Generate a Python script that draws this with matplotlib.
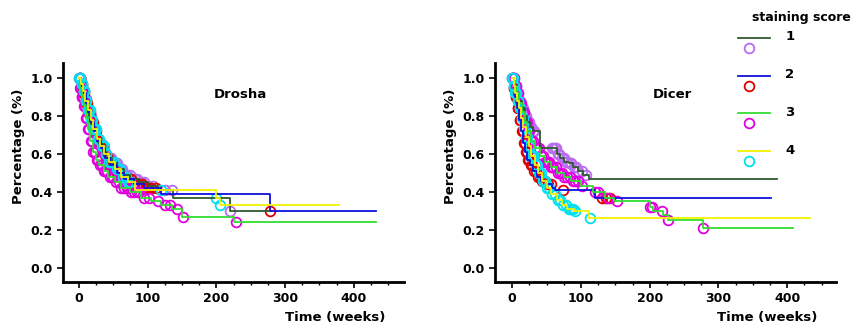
import numpy as np
import matplotlib
matplotlib.use("Agg")
import matplotlib.pyplot as plt
from matplotlib.ticker import MultipleLocator, FixedLocator

plt.rcParams["font.family"] = "DejaVu Sans"
plt.rcParams["font.weight"] = "bold"

scores = ["1", "2", "3", "4"]
line_colors = ["#2f5a2f", "#1010dd", "#33dd33", "#f2f200"]
mark_colors = ["#b86cf0", "#e00000", "#e000e0", "#00e0ee"]

# Drosha: step curves (time in weeks, survival), last time of each curve, censored times
drosha_t = [
    [0, 3, 6, 9, 12, 15, 18, 22, 26, 30, 35, 40, 48, 56, 65, 75, 88, 100, 115, 137, 220],
    [0, 3, 6, 10, 14, 18, 22, 27, 32, 38, 45, 55, 65, 80, 95, 120, 278],
    [0, 2, 4, 7, 10, 13, 16, 20, 25, 30, 36, 43, 52, 62, 75, 90, 105, 120, 135, 150, 225],
    [0, 3, 6, 9, 13, 17, 21, 26, 31, 37, 44, 52, 62, 72, 82, 200, 205],
]
drosha_s = [
    [1.0, 0.97, 0.93, 0.89, 0.84, 0.80, 0.76, 0.72, 0.68, 0.65, 0.61, 0.58, 0.55, 0.52, 0.49, 0.47, 0.45, 0.43, 0.41, 0.37, 0.30],
    [1.0, 0.96, 0.92, 0.87, 0.82, 0.77, 0.72, 0.67, 0.63, 0.58, 0.54, 0.50, 0.47, 0.44, 0.42, 0.39, 0.30],
    [1.0, 0.95, 0.90, 0.85, 0.79, 0.73, 0.67, 0.61, 0.57, 0.54, 0.51, 0.48, 0.45, 0.42, 0.40, 0.37, 0.35, 0.33, 0.31, 0.27, 0.24],
    [1.0, 0.97, 0.93, 0.88, 0.83, 0.78, 0.73, 0.68, 0.64, 0.60, 0.56, 0.52, 0.48, 0.45, 0.41, 0.37, 0.33],
]
drosha_end = [280, 432, 432, 378]
drosha_cens = [
    [1, 2, 4, 5, 7, 8, 10, 11, 13, 14, 16, 17, 19, 20, 22, 24, 26, 28, 31, 33, 36, 38, 41, 43, 45, 47,
     50, 52, 55, 58, 61, 63, 67, 70, 74, 78, 82, 85, 90, 95, 101, 108, 125, 135, 220],
    [1, 2, 4, 6, 8, 10, 12, 14, 16, 18, 20, 23, 25, 28, 30, 33, 35, 39, 42, 46, 50, 55, 60, 66, 72,
     76, 80, 84, 88, 92, 97, 101, 105, 112, 278],
    [0, 1, 2, 3, 4, 5, 6, 8, 9, 11, 12, 14, 15, 17, 19, 21, 23, 24, 26, 28, 31, 33, 36, 38, 41, 45,
     48, 50, 54, 58, 62, 66, 70, 72, 76, 80, 84, 88, 95, 102, 115, 125, 132, 143, 152, 228],
    [0, 1, 2, 4, 5, 7, 8, 10, 11, 13, 15, 16, 18, 19, 21, 23, 25, 28, 30, 33, 36, 40, 44, 47, 51,
     55, 58, 60, 64, 68, 72, 75, 120, 200, 206],
]

# Dicer
dicer_t = [
    [0, 3, 6, 10, 14, 18, 22, 26, 30, 41, 65, 70, 76, 82, 88, 95, 103, 112],
    [0, 2, 4, 7, 10, 13, 16, 19, 22, 26, 30, 36, 42, 50, 58, 62, 120],
    [0, 3, 6, 10, 14, 18, 22, 27, 33, 40, 48, 56, 65, 75, 85, 100, 118, 135, 148, 200, 205, 220, 226, 278],
    [0, 2, 4, 7, 10, 13, 16, 20, 24, 28, 33, 38, 44, 50, 57, 65, 72, 80, 90, 112],
]
dicer_s = [
    [1.0, 0.96, 0.92, 0.88, 0.84, 0.80, 0.77, 0.74, 0.72, 0.63, 0.60, 0.58, 0.56, 0.55, 0.53, 0.51, 0.49, 0.47],
    [1.0, 0.95, 0.90, 0.84, 0.78, 0.72, 0.66, 0.61, 0.57, 0.54, 0.51, 0.48, 0.46, 0.44, 0.42, 0.41, 0.37],
    [1.0, 0.96, 0.92, 0.87, 0.82, 0.77, 0.72, 0.67, 0.63, 0.59, 0.56, 0.53, 0.50, 0.48, 0.46, 0.43, 0.40, 0.37, 0.35, 0.32, 0.30, 0.28, 0.25, 0.21],
    [1.0, 0.96, 0.92, 0.88, 0.84, 0.79, 0.74, 0.69, 0.64, 0.59, 0.54, 0.50, 0.46, 0.42, 0.39, 0.36, 0.33, 0.31, 0.30, 0.265],
]
dicer_end = [385, 376, 409, 433]
dicer_cens = [
    [1, 2, 4, 5, 7, 8, 10, 12, 14, 16, 18, 20, 22, 24, 26, 28, 30, 32, 58, 60, 62, 64, 66, 68, 72,
     75, 78, 80, 84, 86, 90, 93, 96, 102, 108],
    [0, 1, 2, 3, 5, 6, 8, 9, 11, 12, 14, 15, 17, 18, 20, 21, 23, 25, 27, 29, 32, 34, 37, 40, 44, 48,
     52, 56, 74, 130, 137, 142],
    [1, 2, 4, 5, 7, 9, 11, 13, 15, 17, 19, 21, 23, 25, 28, 30, 33, 36, 39, 42, 45, 48, 50, 52, 54,
     56, 58, 60, 63, 66, 69, 72, 76, 80, 84, 88, 92, 95, 102, 120, 125, 140, 152, 200, 204, 218,
     226, 278],
    [0, 1, 2, 3, 4, 5, 6, 8, 9, 11, 12, 14, 15, 17, 18, 20, 22, 24, 26, 28, 30, 32, 34, 36, 39, 42,
     45, 48, 51, 54, 58, 62, 66, 70, 74, 78, 82, 85, 88, 92, 113],
]

panels = [
    ("Drosha", drosha_t, drosha_s, drosha_end, drosha_cens, (-23, 473)),
    ("Dicer", dicer_t, dicer_s, dicer_end, dicer_cens, (-25, 471)),
]


def surv_at(t, s, x):
    idx = np.searchsorted(t, x, side="right") - 1
    return np.asarray(s)[idx]


fig = plt.figure(figsize=(8.59, 3.30), dpi=100)
lefts = [63 / 859, 495 / 859]
w = 341 / 859
for left, (name, ts, ss, ends, cens, xl) in zip(lefts, panels):
    ax = fig.add_axes([left, 48 / 330, w, 219 / 330])
    for i in range(4):
        t = np.array(ts[i] + [ends[i]])
        s = np.array(ss[i] + [ss[i][-1]])
        ax.step(t, s, where="post", color=line_colors[i], lw=1.3, zorder=3)
    for i in range(4):
        c = np.array(cens[i])
        ax.plot(c, surv_at(ts[i], ss[i], c), "o", ms=7, mfc="none",
                mec=mark_colors[i], mew=1.3, zorder=2)
    ax.set_xlim(*xl)
    ax.set_ylim(-0.074, 1.079)
    for sp in ["top", "right"]:
        ax.spines[sp].set_visible(False)
    for sp in ["left", "bottom"]:
        ax.spines[sp].set_linewidth(2)
    ax.xaxis.set_major_locator(FixedLocator([0, 100, 200, 300, 400]))
    ax.xaxis.set_minor_locator(FixedLocator([25, 50, 75, 125, 150, 175, 225, 250, 275,
                                             325, 350, 375, 425, 450]))
    ax.yaxis.set_major_locator(MultipleLocator(0.2))
    ax.yaxis.set_major_formatter(lambda v, p: f"{v:.1f}")
    ax.tick_params(which="major", length=4, width=1.2, labelsize=9)
    ax.tick_params(which="minor", length=2.5, width=1)
    ax.set_ylabel("Percentage (%)", fontsize=9.5, fontweight="bold")
    ax.yaxis.set_label_coords(-0.11, 0.62)
    ax.text(0.944, -0.16, "Time (weeks)", transform=ax.transAxes, ha="right",
            va="center", fontsize=9.5, fontweight="bold")
    ax.text(0.52, 0.855, name, transform=ax.transAxes, ha="center", va="center",
            fontsize=9.5, fontweight="bold")

# legend panel
lg = fig.add_axes([0, 0, 1, 1], facecolor="none")
lg.set_xlim(0, 859)
lg.set_ylim(330, 0)
lg.axis("off")
lg.text(801, 17, "staining score", ha="center", va="center", fontsize=9, fontweight="bold")
for i, sc in enumerate(scores):
    y0 = 38 + 37.7 * i
    lg.plot([738, 770], [y0, y0], color=line_colors[i], lw=1.3)
    lg.plot([749], [y0 + 10], "o", ms=7, mfc="none", mec=mark_colors[i], mew=1.3)
    lg.text(790, y0 - 1, sc, ha="center", va="center", fontsize=9.5, fontweight="bold")

fig.savefig("out.png", dpi=100)
